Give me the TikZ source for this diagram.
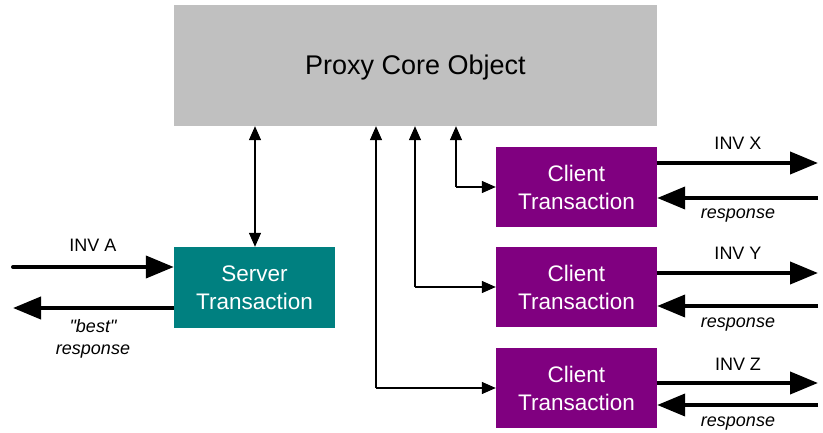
\documentclass[tikz,border=0pt]{standalone}
\usepackage{fontspec}
\setmainfont{Liberation Sans}[Ligatures=TeXOff]
\usetikzlibrary{arrows.meta}
\definecolor{coregray}{HTML}{C0C0C0}
\definecolor{srvteal}{HTML}{008080}
\definecolor{cliviolet}{HTML}{800080}
\begin{document}
\begin{tikzpicture}[x=1pt,y=-1pt,
  box/.style={draw=none,minimum width=161pt,minimum height=80pt,text=white,align=center,font=\fontsize{22.5}{28}\selectfont,inner sep=0pt},
  thin/.style={line width=1.3pt,-{Triangle[length=14pt,width=12pt]}},
  thinboth/.style={line width=1.3pt,{Triangle[length=14pt,width=12pt]}-{Triangle[length=14pt,width=12pt]}},
  thick/.style={line width=4pt,-{Triangle[length=28pt,width=22pt]}},
  lab/.style={font=\fontsize{18}{20}\selectfont,inner sep=0pt},
  ilab/.style={font=\fontsize{18}{22}\selectfont\itshape,inner sep=0pt,align=center}]
\useasboundingbox (0,0) rectangle (823,433);
\node[fill=coregray,minimum width=483pt,minimum height=121pt,inner sep=0pt] (core) at (415.5,65.5) {};
\node[font=\fontsize{27}{32}\selectfont,inner sep=0pt] (coretxt) at (415.5,68) {Proxy Core Object};
\node[box,fill=srvteal,minimum width=161pt,minimum height=81pt] (srv) at (254.5,287.5) {Server\\Transaction};
\node[box,fill=cliviolet] (c1) at (576.5,187) {Client\\Transaction};
\node[box,fill=cliviolet] (c2) at (576.5,287) {Client\\Transaction};
\node[box,fill=cliviolet] (c3) at (576.5,388) {Client\\Transaction};
% thin connectors
\draw[thinboth] (core.south -| 255,0) -- (srv.north -| 255,0);
\coordinate (k1) at (456,187);
\coordinate (k2) at (415,287);
\coordinate (k3) at (376,388);
\draw[thin] (k1) -- (k1 |- core.south);
\draw[thin] (k1) -- (c1.west);
\draw[thin] (k2) -- (k2 |- core.south);
\draw[thin] (k2) -- (c2.west);
\draw[thin] (k3) -- (k3 |- core.south);
\draw[thin] (k3) -- (c3.west);
% server side thick arrows
\coordinate (ina) at (13,267);
\coordinate (outa) at (13,308);
\draw[thick,line cap=round] (ina) -- (ina -| srv.west);
\draw[thick] (outa -| srv.west) -- (outa);
\node[lab] (linva) at (93,245) {INV A};
\node[ilab] (lbest) at (93,339) {"best"\\response};
% client side thick arrows
\coordinate (x1) at (818,163);
\coordinate (y1) at (818,198);
\draw[thick] (x1 -| c1.east) -- (x1);
\draw[thick] (y1) -- (y1 -| c1.east);
\node[lab] (linvx) at (738,143) {INV X};
\node[ilab] (lr1) at (738,216) {response};
\coordinate (x2) at (818,273);
\coordinate (y2) at (818,306);
\draw[thick] (x2 -| c2.east) -- (x2);
\draw[thick] (y2) -- (y2 -| c2.east);
\node[lab] (linvy) at (738,253) {INV Y};
\node[ilab] (lr2) at (738,325) {response};
\coordinate (x3) at (818,383);
\coordinate (y3) at (818,405);
\draw[thick] (x3 -| c3.east) -- (x3);
\draw[thick] (y3) -- (y3 -| c3.east);
\node[lab] (linvz) at (738,364) {INV Z};
\node[ilab] (lr3) at (738,424) {response};
\end{tikzpicture}
\end{document}
